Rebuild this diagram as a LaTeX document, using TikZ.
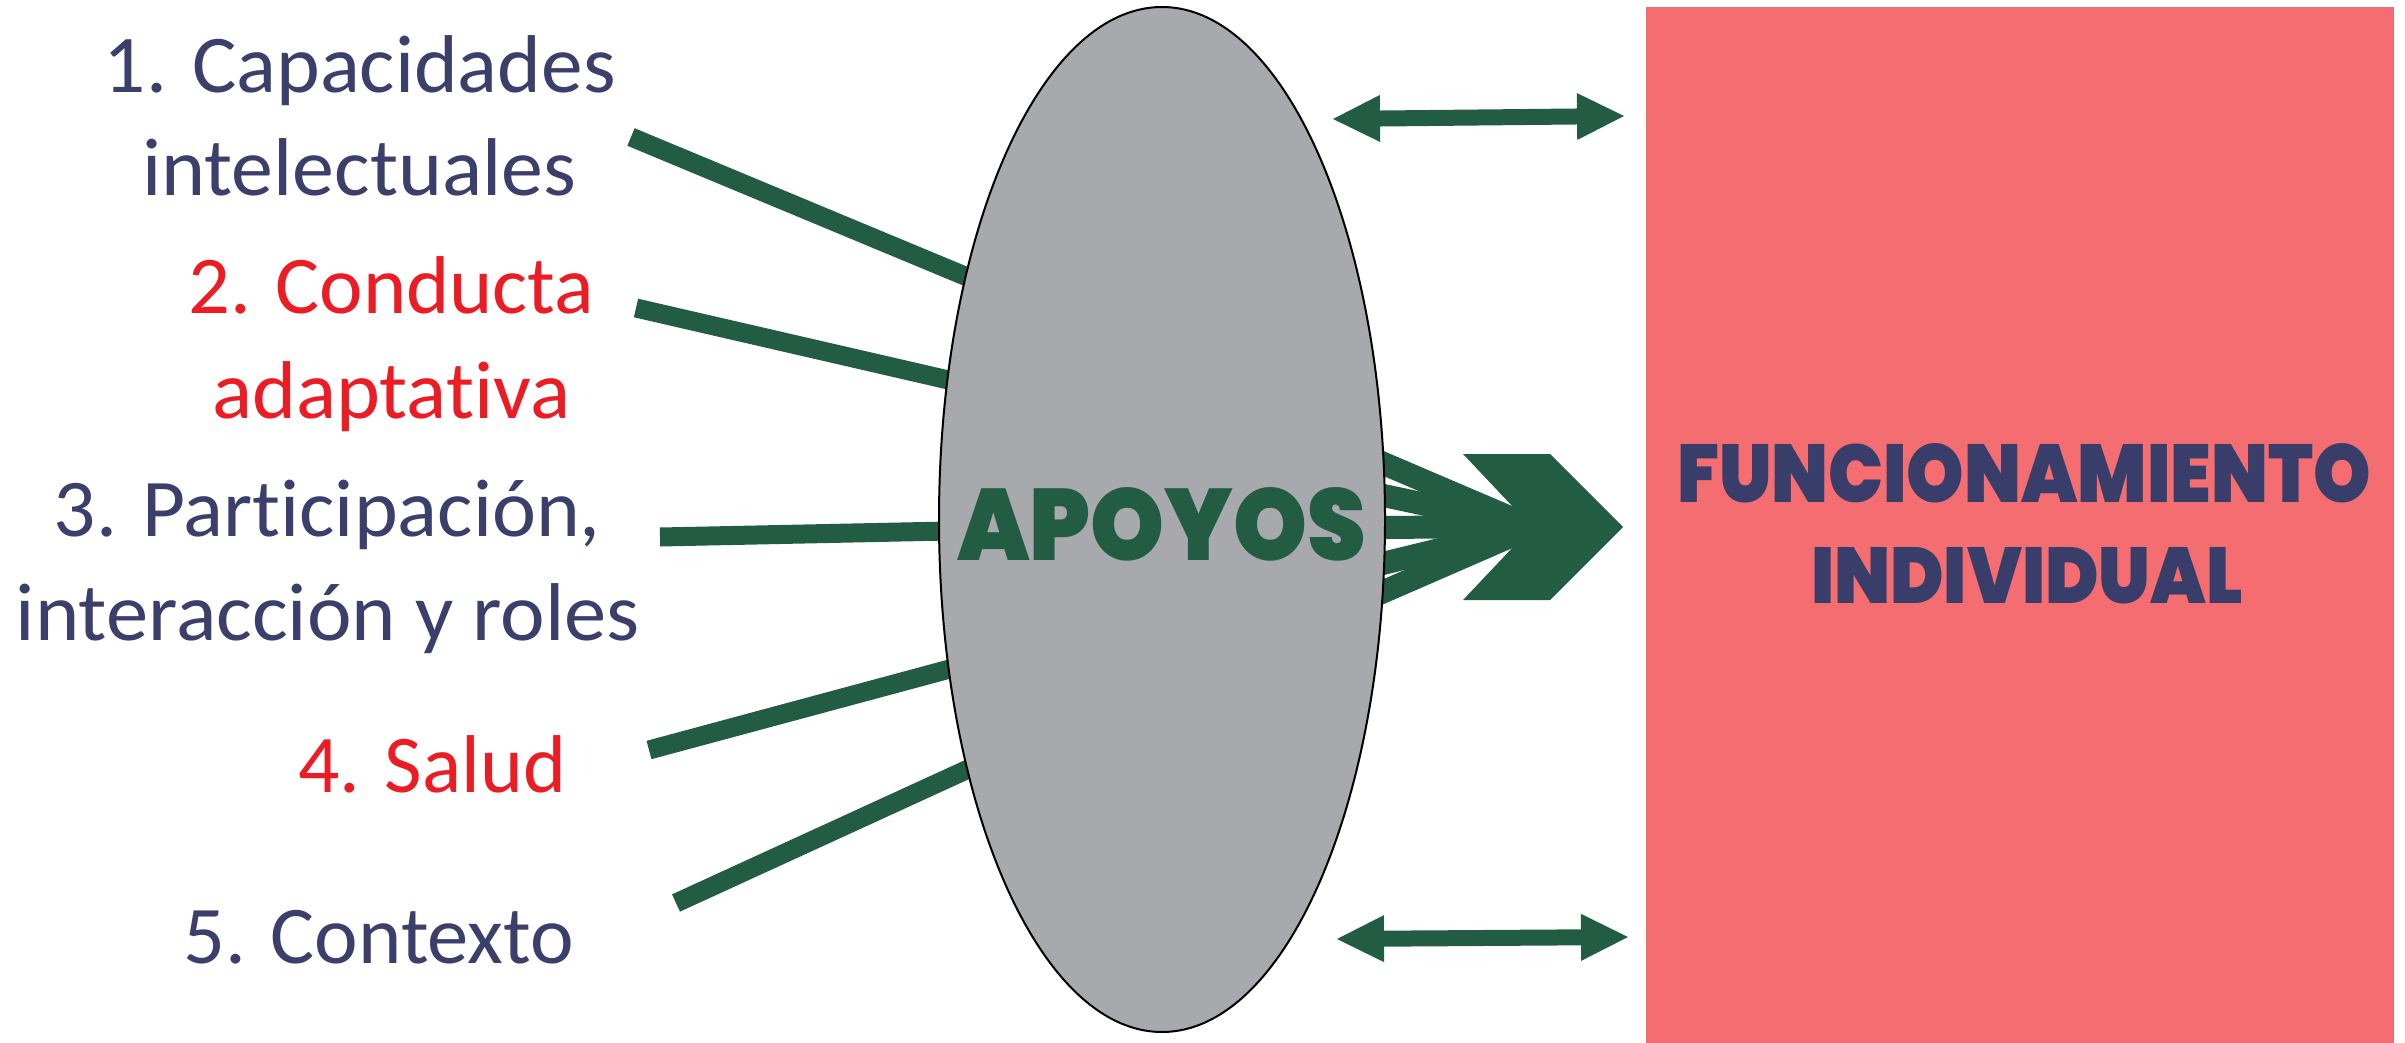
\documentclass[tikz,border=0pt]{standalone}
\usepackage{fontspec}
\usepackage{graphicx}
\setmainfont{Carlito}[Ligatures=NoCommon]
\newfontfamily\popfont{Poppins Black}
\usetikzlibrary{shapes.geometric,arrows.meta,backgrounds}
\definecolor{navy}{HTML}{3A3F6B}
\definecolor{lblred}{HTML}{EC1C24}
\definecolor{dgreen}{HTML}{225C43}
\definecolor{ellgray}{HTML}{A8A9AD}
\definecolor{pinkbox}{HTML}{F46D71}
\definecolor{titlenavy}{HTML}{383E69}
\newcommand\fitw[2]{\resizebox{#1}{\height}{#2}}
\newcommand\fitwh[3]{\resizebox{#1}{#2}{#3}}
\begin{document}
\begin{tikzpicture}[x=1pt,y=-1pt,
  lbl/.style={inner sep=0pt, anchor=base west, font=\fontsize{82}{98}\selectfont},
  navylbl/.style={lbl, text=navy},
  redlbl/.style={lbl, text=lblred},
  feed/.style={draw=dgreen, line width=19pt, shorten >=-14pt},
  fan/.style={draw=dgreen, line width=23pt, shorten <=-16pt},
  dblarrow/.style={draw=dgreen, line width=16pt,
    arrows={Triangle[length=47pt,width=47pt,line width=0pt]-Triangle[length=47pt,width=47pt,line width=0pt]}},
  titletext/.style={inner sep=0pt, anchor=base, font=\popfont\fontsize{80}{96}\selectfont}]
\useasboundingbox (0,0) rectangle (2405,1043);

% supports ellipse
\node[ellipse, draw=black, line width=2pt, fill=ellgray, minimum width=446pt,
      minimum height=1025pt, inner sep=0pt] (ap) at (1162,519.5) {};
\node[titletext, text=dgreen] (apt) at (1161.5,560) {\fitwh{409pt}{73pt}{APOYOS}};

% right box
\node[rectangle, fill=pinkbox, minimum width=748pt, minimum height=1040pt,
      inner sep=0pt, outer sep=0pt] (fi) at (2020,527) {};
\node[titletext, text=titlenavy] (fi1) at (2024,502) {\fitwh{694pt}{59pt}{FUNCIONAMIENTO}};
\node[titletext, text=titlenavy] (fi2) at (2027,603) {\fitwh{432pt}{56pt}{INDIVIDUAL}};

% left labels
\node[navylbl] (l1a) at (103.6,93) {\fitw{512pt}{1. Capacidades}};
\node[navylbl] (l1b) at (142,196) {\fitw{434pt}{intelectuales}};
\node[redlbl] (l2a) at (188,313) {\fitw{406pt}{2. Conducta}};
\node[redlbl] (l2b) at (212,418) {\fitw{358pt}{adaptativa}};
\node[navylbl] (l3a) at (53.6,536) {\fitw{547pt}{3. Participación,}};
\node[navylbl] (l3b) at (15.6,640) {\fitw{624pt}{interacción y roles}};
\node[redlbl] (l4) at (298,792) {\fitw{268pt}{4. Salud}};
\node[navylbl] (l5) at (183,963) {\fitw{391pt}{5. Contexto}};

% feed line start points
\coordinate (s1) at (631,137);
\coordinate (s2) at (636,308);
\coordinate (s3) at (660,537);
\coordinate (s4) at (649,750);
\coordinate (s5) at (676,903);
\coordinate (conv) at (1532,527);

\begin{pgfonlayer}{background}
\draw[feed] (s1) -- (ap.129.2);
\draw[feed] (s2) -- (ap.147.7);
\draw[feed] (s3) -- (ap.183.2);
\draw[feed] (s4) -- (ap.215.1);
\draw[feed] (s5) -- (ap.232.7);
\draw[fan] (ap.14.7) -- (conv);
\draw[fan] (ap.6.2) -- (conv);
\draw[fan] (ap.-2.8) -- (conv);
\draw[fan] (ap.-11) -- (conv);
\draw[fan] (ap.-18.4) -- (conv);
\end{pgfonlayer}

% chevron arrow head
\fill[dgreen] (1463,454) -- (1550,454) -- (1623,527) -- (1550,600) -- (1463,600) -- (conv) -- cycle;

% double arrows
\coordinate (ta1) at (1333,119);
\coordinate (ta2) at (1624,116);
\coordinate (ba1) at (1337,939);
\coordinate (ba2) at (1628,937);
\draw[dblarrow] (ta1) -- (ta2);
\draw[dblarrow] (ba1) -- (ba2);
\end{tikzpicture}
\end{document}
